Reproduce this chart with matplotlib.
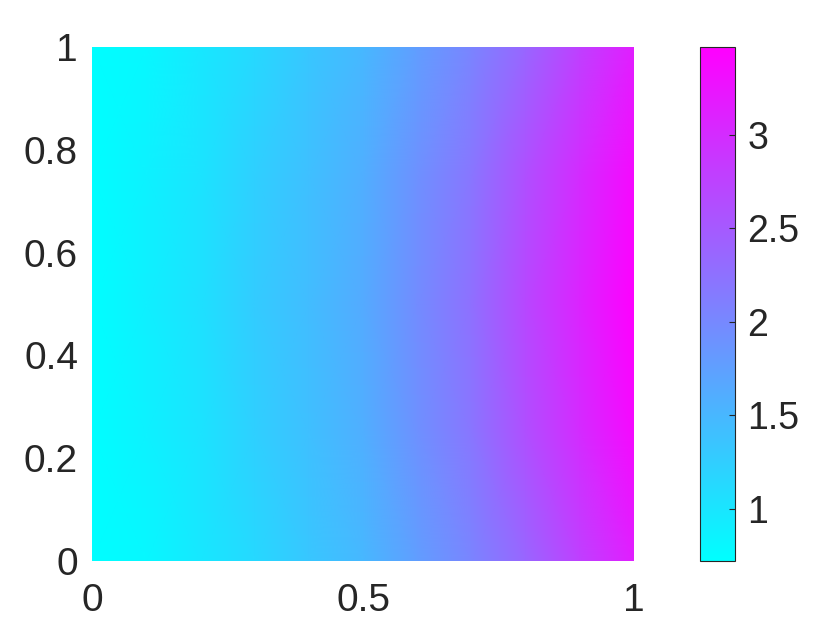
import numpy as np
import matplotlib
matplotlib.use("Agg")
import matplotlib.pyplot as plt

# Sample positions
x_pos = [0.0, 0.1, 0.2, 0.3, 0.4, 0.5, 0.6, 0.7, 0.8, 0.9, 1.0]
y_pos = [0.0, 0.25, 0.5, 0.75, 1.0]

row_edge = [0.72, 0.80, 0.97, 1.13, 1.33, 1.49, 1.77, 2.04, 2.37, 2.78, 3.14]
row_quarter = [0.72, 0.86, 1.02, 1.23, 1.40, 1.59, 1.91, 2.20, 2.62, 3.00, 3.37]
row_middle = [0.72, 0.885, 1.05, 1.27, 1.435, 1.63, 1.96, 2.26, 2.70, 3.09, 3.47]

x_ticks = [0, 0.5, 1]
x_ticklabels = ["0", "0.5", "1"]
y_ticks = [0, 0.2, 0.4, 0.6, 0.8, 1]
y_ticklabels = ["0", "0.2", "0.4", "0.6", "0.8", "1"]
cb_ticks = [1, 1.5, 2, 2.5, 3]
cb_ticklabels = ["1", "1.5", "2", "2.5", "3"]
c_min, c_max = 0.72, 3.47

Z = np.array([row_edge, row_quarter, row_middle, row_quarter, row_edge])
X, Y = np.meshgrid(x_pos, y_pos)

plt.rcParams['font.family'] = ['Liberation Sans', 'DejaVu Sans']
txt = '#262626'

fig = plt.figure(figsize=(8.4, 6.3), dpi=100)
ax = fig.add_axes([92/840, 1-561/630, (634-92)/840, (561-47)/630])
pc = ax.pcolormesh(X, Y, Z, shading='gouraud', cmap='cool', vmin=c_min, vmax=c_max)
ax.set_xlim(0, 1)
ax.set_ylim(0, 1)
for s in ax.spines.values():
    s.set_visible(False)
ax.set_xticks(x_ticks)
ax.set_xticklabels(x_ticklabels)
ax.set_yticks(y_ticks)
ax.set_yticklabels(y_ticklabels)
ax.tick_params(length=0, labelsize=28, colors=txt)
ax.tick_params(axis='y', pad=10)
ax.tick_params(axis='x', pad=16)

cax = fig.add_axes([700/840, 1-561/630, 35/840, (561-47)/630])
cb = fig.colorbar(pc, cax=cax)
cb.set_ticks(cb_ticks)
cb.set_ticklabels(cb_ticklabels)
cax.tick_params(direction='in', length=4, width=0.8, labelsize=27, colors=txt, pad=9)
cb.outline.set_edgecolor(txt)
cb.outline.set_linewidth(0.8)

fig.savefig("out.png", dpi=100)
